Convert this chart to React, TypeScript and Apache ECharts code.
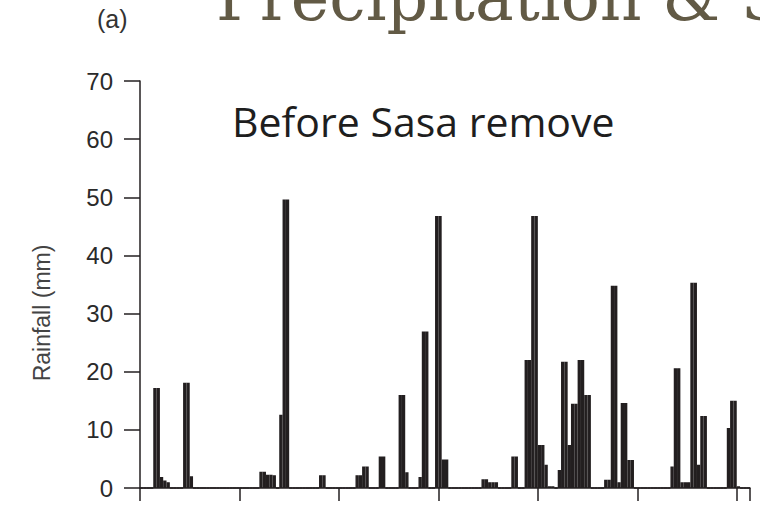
import React, { useEffect, useRef } from "react";
import * as echarts from "echarts";

// Daily rainfall record (bin = day index from start of the period)
const dayCount = 184;
const rainDays = [
  4, 5, 6, 7, 8, 13, 14, 15,
  36, 37, 38, 39, 40, 42, 43, 44,
  54, 55, 65, 66, 67, 68, 72, 73, 78, 79, 80,
  84, 85, 86, 89, 90, 91, 92,
  103, 104, 105, 106, 107, 112, 113,
  116, 117, 118, 119, 120, 121, 122, 123, 124,
  126, 127, 128, 129, 130, 131, 132, 133, 134, 135,
  140, 141, 142, 143, 144, 145, 146, 147, 148,
  160, 161, 162, 163, 164, 165, 166, 167, 168, 169, 170,
  177, 178, 179, 180,
];
const rainMm = [
  17.2, 17.2, 1.9, 1.3, 1.0, 18.1, 18.1, 2.0,
  2.8, 2.8, 2.3, 2.3, 2.2, 12.6, 49.6, 49.6,
  2.2, 2.2, 2.2, 2.2, 3.7, 3.7, 5.4, 5.4, 16.0, 16.0, 2.7,
  1.9, 26.9, 26.9, 46.8, 46.8, 4.9, 4.9,
  1.5, 1.5, 1.0, 1.0, 1.0, 5.4, 5.4,
  22.0, 22.0, 46.8, 46.8, 7.4, 7.4, 4.0, 0.3, 0.3,
  3.1, 21.7, 21.7, 7.4, 14.5, 14.5, 22.0, 22.0, 16.0, 16.0,
  1.4, 1.4, 34.8, 34.8, 1.0, 14.6, 14.6, 4.8, 4.8,
  3.7, 20.6, 20.6, 1.0, 1.0, 1.0, 35.3, 35.3, 4.0, 12.4, 12.4,
  10.3, 15.0, 15.0, 0.3,
];
const yTicks = [0, 10, 20, 30, 40, 50, 60, 70];

const titleText = "Precipitation & S";
const panelLabel = "(a)";
const noteText = "Before Sasa remove";
const yName = "Rainfall (mm)";

export default function App() {
  const ref = useRef<HTMLDivElement>(null);
  useEffect(() => {
    if (!ref.current) return;
    const chart = echarts.init(ref.current, null, { renderer: "svg" });
    const categories = Array.from({ length: dayCount }, (_, i) => String(i));
    const values: number[] = new Array(dayCount).fill(0);
    rainDays.forEach((d, i) => {
      values[d] = rainMm[i];
    });
    const ink = "#231f20";
    chart.setOption({
      animation: false,
      backgroundColor: "#ffffff",
      grid: { left: 140, top: 81, right: 10, bottom: 18, containLabel: false },
      xAxis: {
        type: "category",
        data: categories,
        boundaryGap: true,
        axisLine: { show: true, lineStyle: { color: ink, width: 1.5 } },
        axisTick: { show: true, interval: 29, length: 13, lineStyle: { color: ink, width: 1.5 } },
        axisLabel: { show: false },
        splitLine: { show: false },
      },
      yAxis: {
        type: "value",
        min: yTicks[0],
        max: yTicks[yTicks.length - 1],
        interval: 10,
        axisLine: { show: true, lineStyle: { color: ink, width: 1.5 } },
        axisTick: { show: true, length: 16, lineStyle: { color: ink, width: 1.5 } },
        axisLabel: {
          margin: 27,
          fontFamily: "Liberation Sans",
          fontSize: 24,
          color: "#2a2a2a",
        },
        splitLine: { show: false },
      },
      series: [
        {
          type: "bar",
          data: values,
          barWidth: "100%",
          barCategoryGap: "0%",
          itemStyle: { color: ink, borderColor: ink, borderWidth: 1.4 },
        },
      ],
      graphic: [
        {
          type: "text",
          left: 216,
          top: -35,
          style: {
            text: titleText,
            fontFamily: "DejaVu Serif",
            fontSize: 65,
            fill: "#625a45",
          },
        },
        {
          type: "text",
          left: 97,
          top: 6,
          style: {
            text: panelLabel,
            fontFamily: "Liberation Sans",
            fontSize: 25,
            fill: "#333333",
          },
        },
        {
          type: "text",
          left: 232,
          top: 100,
          style: {
            text: noteText,
            fontFamily: "Open Sans",
            fontSize: 41,
            fill: "#1e1e1e",
          },
        },
        {
          type: "text",
          x: 42,
          y: 313,
          rotation: Math.PI / 2,
          style: {
            text: yName,
            fontFamily: "Liberation Sans",
            fontSize: 23,
            fill: "#444444",
            align: "center",
            verticalAlign: "middle",
          },
        },
      ],
    });
    return () => chart.dispose();
  }, []);
  return (
    <div
      ref={ref}
      style={{ position: "fixed", left: 0, top: 0, width: 760, height: 506 }}
    />
  );
}
